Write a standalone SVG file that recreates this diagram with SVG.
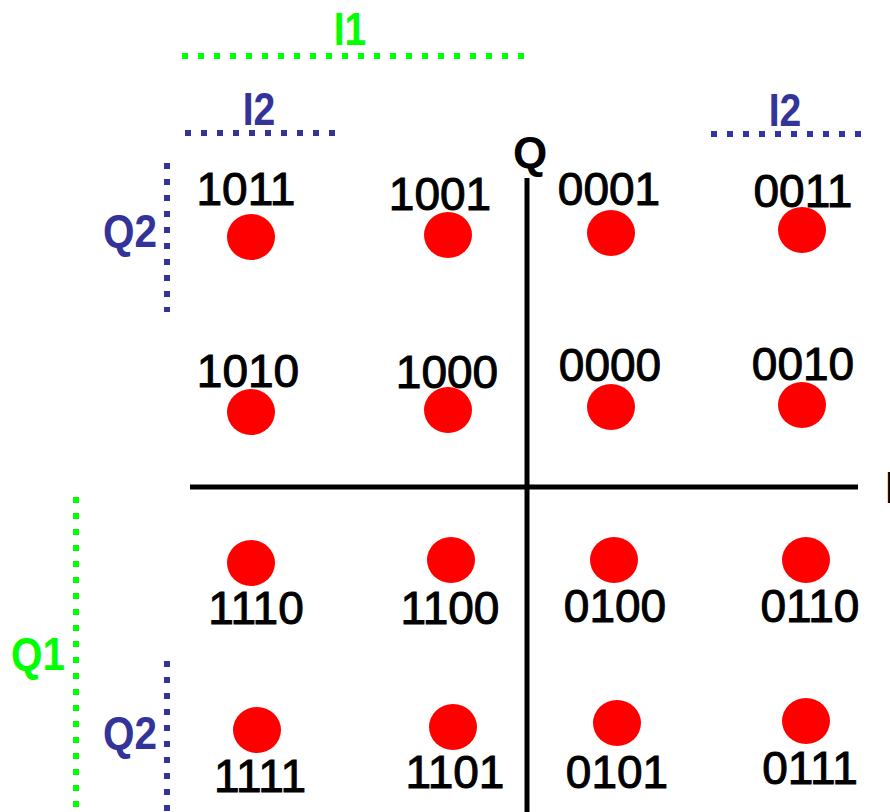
<svg xmlns="http://www.w3.org/2000/svg" width="890" height="812" viewBox="0 0 890 812">
<style>
.lbl{font-family:"Liberation Sans",Arial,sans-serif;font-size:46px;fill:#000;stroke:#000;stroke-width:1;text-anchor:middle}
.dot{fill:#ff0000}
.ax{stroke:#000;stroke-width:5;fill:none}
.g{stroke:#00ff00;stroke-width:6;stroke-dasharray:6 10;fill:none}
.b{stroke:#333399;stroke-width:6;stroke-dasharray:6 10;fill:none}
.gt{font-family:"Liberation Sans",Arial,sans-serif;font-size:46px;font-weight:bold;fill:#00ff00;text-anchor:middle}
.bt{font-family:"Liberation Sans",Arial,sans-serif;font-size:46px;font-weight:bold;fill:#333399;text-anchor:middle}
</style>
<rect width="890" height="812" fill="#fff"/>
<g id="axes">
<line class="ax" x1="527" y1="178" x2="527" y2="812"/>
<line class="ax" x1="190" y1="487" x2="858" y2="487"/>
<text x="530" y="168" font-family="Liberation Sans,Arial,sans-serif" font-size="44" font-weight="bold" text-anchor="middle">Q</text>
<text x="885" y="503" font-family="Liberation Sans,Arial,sans-serif" font-size="44" font-weight="bold">I</text>
</g>
<g id="ranges">
<line class="g" x1="182" y1="56" x2="526" y2="56"/>
<text class="gt" x="350" y="45" transform="translate(350 0) scale(0.85 1) translate(-350 0)">I1</text>
<line class="b" x1="185" y1="133" x2="336" y2="133"/>
<text class="bt" x="259" y="125" transform="translate(259 0) scale(0.85 1) translate(-259 0)">I2</text>
<line class="b" x1="711" y1="134" x2="862" y2="134"/>
<text class="bt" x="785" y="126" transform="translate(785 0) scale(0.85 1) translate(-785 0)">I2</text>
<line class="b" x1="167" y1="163" x2="167" y2="312"/>
<text class="bt" x="130" y="247" transform="translate(130 0) scale(0.88 1) translate(-130 0)">Q2</text>
<line class="g" x1="76" y1="497" x2="76" y2="812"/>
<text class="gt" x="38" y="670" transform="translate(38 0) scale(0.88 1) translate(-38 0)">Q1</text>
<line class="b" x1="167" y1="661" x2="167" y2="812"/>
<text class="bt" x="130" y="749" transform="translate(130 0) scale(0.88 1) translate(-130 0)">Q2</text>
</g>
<g id="p1011"><ellipse class="dot" cx="251" cy="237" rx="24" ry="23"/><text class="lbl" x="246" y="205">1011</text></g>
<g id="p1001"><ellipse class="dot" cx="448" cy="235" rx="24" ry="23"/><text class="lbl" x="440" y="210">1001</text></g>
<g id="p0001"><ellipse class="dot" cx="611" cy="233" rx="24" ry="23"/><text class="lbl" x="609" y="205">0001</text></g>
<g id="p0011"><ellipse class="dot" cx="802" cy="230" rx="24" ry="23"/><text class="lbl" x="803" y="207">0011</text></g>
<g id="p1010"><ellipse class="dot" cx="251" cy="412" rx="24" ry="23"/><text class="lbl" x="248" y="387">1010</text></g>
<g id="p1000"><ellipse class="dot" cx="448" cy="410" rx="24" ry="23"/><text class="lbl" x="447" y="388">1000</text></g>
<g id="p0000"><ellipse class="dot" cx="611" cy="407" rx="24" ry="23"/><text class="lbl" x="610" y="381">0000</text></g>
<g id="p0010"><ellipse class="dot" cx="802" cy="405" rx="24" ry="23"/><text class="lbl" x="803" y="380">0010</text></g>
<g id="p1110"><ellipse class="dot" cx="251" cy="563" rx="24" ry="23"/><text class="lbl" x="256" y="624">1110</text></g>
<g id="p1100"><ellipse class="dot" cx="451" cy="560" rx="24" ry="23"/><text class="lbl" x="450" y="624">1100</text></g>
<g id="p0100"><ellipse class="dot" cx="614" cy="560" rx="24" ry="23"/><text class="lbl" x="615" y="622">0100</text></g>
<g id="p0110"><ellipse class="dot" cx="806" cy="560" rx="24" ry="23"/><text class="lbl" x="810" y="622">0110</text></g>
<g id="p1111"><ellipse class="dot" cx="257" cy="730" rx="24" ry="23"/><text class="lbl" x="260" y="792">1111</text></g>
<g id="p1101"><ellipse class="dot" cx="453" cy="727" rx="24" ry="23"/><text class="lbl" x="455" y="788">1101</text></g>
<g id="p0101"><ellipse class="dot" cx="617" cy="723" rx="24" ry="23"/><text class="lbl" x="617" y="788">0101</text></g>
<g id="p0111"><ellipse class="dot" cx="806" cy="721" rx="24" ry="23"/><text class="lbl" x="810" y="784">0111</text></g>
</svg>
